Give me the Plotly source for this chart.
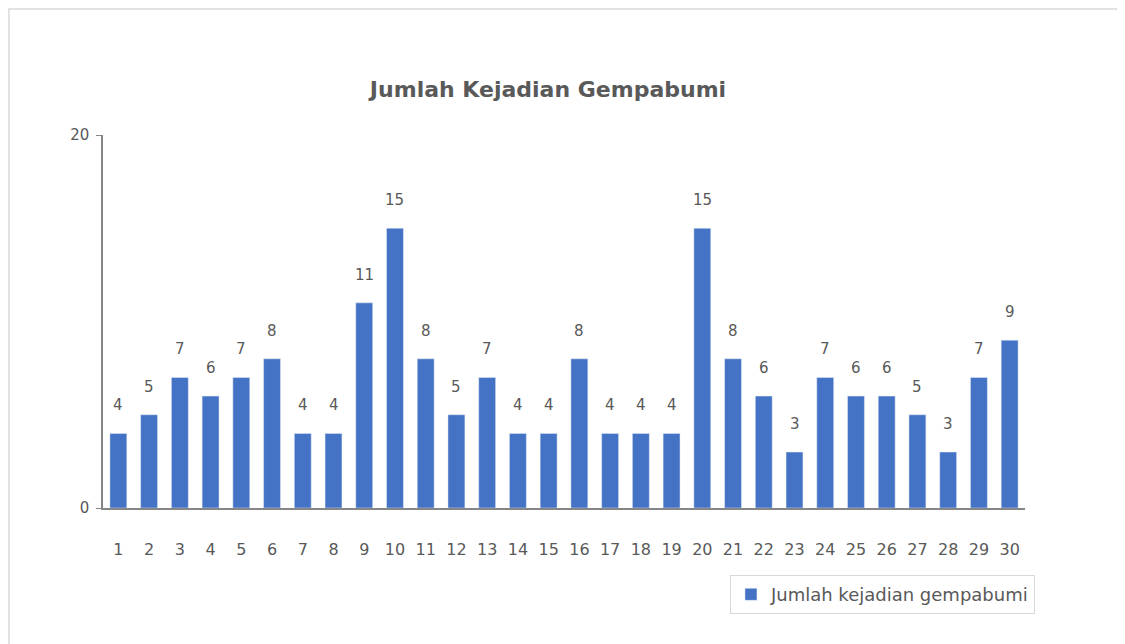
import plotly.graph_objects as go

hari = [str(i) for i in range(1, 31)]
jumlah = [4, 5, 7, 6, 7, 8, 4, 4, 11, 15, 8, 5, 7, 4, 4, 8, 4, 4, 4, 15,
          8, 6, 3, 7, 6, 6, 5, 3, 7, 9]

grey = "#595959"
font = "DejaVu Sans"

fig = go.Figure()
fig.add_trace(go.Bar(
    x=hari, y=jumlah,
    name="Jumlah kejadian gempabumi",
    marker_color="#4472C4",
))

# value labels sit well above the bars, as in the original
# (category axis: annotation x is the category's serial number)
for i, j in enumerate(jumlah):
    fig.add_annotation(x=i, y=j, text=str(j), showarrow=False,
                       yshift=28, font=dict(family=font, size=15, color=grey))

fig.update_layout(
    width=1125, height=644,
    margin=dict(l=95, r=108, t=127, b=144),
    paper_bgcolor="white", plot_bgcolor="white",
    font=dict(family=font, color=grey, size=14),
    title=dict(text="<b>Jumlah Kejadian Gempabumi</b>", x=0.48, xanchor="center",
               y=0.873, yanchor="middle",
               font=dict(family=font, size=22, color=grey)),
    bargap=0.45,
    showlegend=True,
    legend=dict(x=0.68, y=-0.18, xanchor="left", yanchor="top",
                bordercolor="#d9d9d9", borderwidth=1, itemwidth=30,
                font=dict(family=font, size=18, color=grey)),
)

fig.update_xaxes(type="category", showline=True, linecolor="#868686",
                 linewidth=1.5, ticks="", ticklabelstandoff=26,
                 tickfont=dict(size=16, color=grey))
fig.update_yaxes(range=[0, 20], dtick=20, showline=True, linecolor="#868686",
                 linewidth=1.5, ticks="outside", ticklen=5, tickcolor="#868686",
                 ticklabelstandoff=4,
                 showgrid=True, gridcolor="#d9d9d9", zeroline=False,
                 tickfont=dict(size=15, color=grey))

# outer chart border
fig.add_shape(type="rect", xref="paper", yref="paper",
              x0=-0.102, x1=1.101, y0=-0.5, y1=1.338,
              line=dict(color="#d9d9d9", width=1.5))

fig.write_html("out.html")
